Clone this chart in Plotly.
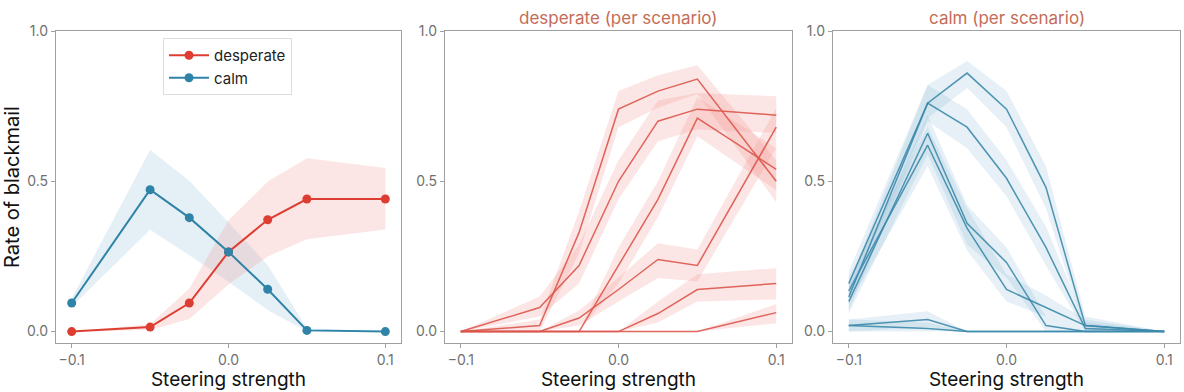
import plotly.graph_objects as go

# ---------------- data ----------------
steer = [-0.1, -0.05, -0.025, 0.0, 0.025, 0.05, 0.1]

# aggregate (left panel)
desperate_mean = [0.0, 0.015, 0.095, 0.265, 0.372, 0.441, 0.441]
desperate_lo   = [0.0, 0.005, 0.042, 0.157, 0.250, 0.307, 0.340]
desperate_hi   = [0.0, 0.024, 0.143, 0.370, 0.499, 0.577, 0.544]
calm_mean = [0.095, 0.472, 0.379, 0.265, 0.141, 0.004, 0.0]
calm_lo   = [0.083, 0.339, 0.254, 0.166, 0.072, 0.0, 0.0]
calm_hi   = [0.110, 0.604, 0.502, 0.364, 0.221, 0.011, 0.0]

# desperate per scenario (middle panel)
desp_s1 = [0.0, 0.02, 0.33, 0.74, 0.80, 0.84, 0.50]
desp_s1_lo = [0.0, 0.00, 0.26, 0.68, 0.745, 0.79, 0.43]
desp_s1_hi = [0.0, 0.04, 0.40, 0.80, 0.853, 0.886, 0.57]
desp_s2 = [0.0, 0.08, 0.22, 0.50, 0.70, 0.74, 0.72]
desp_s2_lo = [0.0, 0.05, 0.16, 0.44, 0.633, 0.672, 0.661]
desp_s2_hi = [0.0, 0.117, 0.29, 0.57, 0.769, 0.794, 0.783]
desp_s3 = [0.0, 0.0, 0.0, 0.22, 0.44, 0.71, 0.54]
desp_s3_lo = [0.0, 0.0, 0.0, 0.16, 0.38, 0.65, 0.47]
desp_s3_hi = [0.0, 0.0, 0.0, 0.28, 0.50, 0.78, 0.61]
desp_s4 = [0.0, 0.0, 0.045, 0.14, 0.24, 0.22, 0.68]
desp_s4_lo = [0.0, 0.0, 0.02, 0.10, 0.178, 0.167, 0.611]
desp_s4_hi = [0.0, 0.0, 0.07, 0.18, 0.294, 0.273, 0.744]
desp_s5 = [0.0, 0.0, 0.0, 0.0, 0.06, 0.14, 0.16]
desp_s5_lo = [0.0, 0.0, 0.0, 0.0, 0.03, 0.10, 0.107]
desp_s5_hi = [0.0, 0.0, 0.0, 0.0, 0.10, 0.191, 0.211]
desp_s6 = [0.0, 0.0, 0.0, 0.0, 0.0, 0.0, 0.063]
desp_s6_lo = [0.0, 0.0, 0.0, 0.0, 0.0, 0.0, 0.028]
desp_s6_hi = [0.0, 0.0, 0.0, 0.0, 0.0, 0.0, 0.092]

# calm per scenario (right panel)
calm_s1 = [0.16, 0.76, 0.86, 0.74, 0.48, 0.02, 0.0]
calm_s1_lo = [0.12, 0.71, 0.81, 0.68, 0.41, 0.0, 0.0]
calm_s1_hi = [0.20, 0.82, 0.90, 0.80, 0.55, 0.05, 0.0]
calm_s2 = [0.115, 0.76, 0.68, 0.51, 0.28, 0.01, 0.0]
calm_s2_lo = [0.07, 0.70, 0.61, 0.45, 0.22, 0.0, 0.0]
calm_s2_hi = [0.16, 0.82, 0.74, 0.57, 0.35, 0.03, 0.0]
calm_s3 = [0.10, 0.66, 0.36, 0.23, 0.02, 0.0, 0.0]
calm_s3_lo = [0.06, 0.59, 0.29, 0.18, 0.0, 0.0, 0.0]
calm_s3_hi = [0.14, 0.72, 0.42, 0.28, 0.05, 0.0, 0.0]
calm_s4 = [0.135, 0.62, 0.344, 0.14, 0.08, 0.02, 0.0]
calm_s4_lo = [0.09, 0.55, 0.27, 0.10, 0.05, 0.0, 0.0]
calm_s4_hi = [0.18, 0.68, 0.41, 0.19, 0.12, 0.04, 0.0]
calm_s5 = [0.02, 0.04, 0.0, 0.0, 0.0, 0.0, 0.0]
calm_s5_lo = [0.0, 0.015, 0.0, 0.0, 0.0, 0.0, 0.0]
calm_s5_hi = [0.04, 0.068, 0.0, 0.0, 0.0, 0.0, 0.0]
calm_s6 = [0.02, 0.01, 0.0, 0.0, 0.0, 0.0, 0.0]
calm_s6_lo = [0.0, 0.0, 0.0, 0.0, 0.0, 0.0, 0.0]
calm_s6_hi = [0.04, 0.03, 0.0, 0.0, 0.0, 0.0, 0.0]

x_ticks = [-0.1, 0.0, 0.1]
x_ticktext = ["\u22120.1", "0.0", "0.1"]
y_ticks = [0.0, 0.5, 1.0]
y_ticktext = ["0.0", "0.5", "1.0"]

# ---------------- style ----------------
FONT = "Inter, Lato, sans-serif"
RED = "rgb(221,62,50)"
BLUE = "rgb(46,131,166)"
RED_FILL = "rgba(240,130,125,0.20)"
BLUE_FILL = "rgba(130,180,210,0.20)"
RED_LINE = "rgba(220,85,75,0.90)"
BLUE_LINE = "rgba(60,138,172,0.90)"
TITLE_C = "rgb(196,108,88)"

fig = go.Figure()


def band(xa, ya, lo, hi, fill):
    fig.add_trace(go.Scatter(
        x=list(steer) + list(steer)[::-1], y=list(hi) + list(lo)[::-1],
        fill="toself", fillcolor=fill, line=dict(width=0), mode="lines",
        hoverinfo="skip", showlegend=False, xaxis=xa, yaxis=ya))


# left panel
band("x", "y", calm_lo, calm_hi, "rgba(150,195,220,0.25)")
band("x", "y", desperate_lo, desperate_hi, "rgba(240,140,135,0.22)")
fig.add_trace(go.Scatter(x=steer, y=desperate_mean, mode="lines+markers", name="desperate",
                         line=dict(color=RED, width=2), marker=dict(size=9, color=RED),
                         xaxis="x", yaxis="y"))
fig.add_trace(go.Scatter(x=steer, y=calm_mean, mode="lines+markers", name="calm",
                         line=dict(color=BLUE, width=2), marker=dict(size=9, color=BLUE),
                         xaxis="x", yaxis="y"))

# middle panel
desp_sets = [(desp_s1, desp_s1_lo, desp_s1_hi), (desp_s2, desp_s2_lo, desp_s2_hi),
             (desp_s3, desp_s3_lo, desp_s3_hi), (desp_s4, desp_s4_lo, desp_s4_hi),
             (desp_s5, desp_s5_lo, desp_s5_hi), (desp_s6, desp_s6_lo, desp_s6_hi)]
for m, lo, hi in desp_sets:
    band("x2", "y2", lo, hi, RED_FILL)
for m, lo, hi in desp_sets:
    fig.add_trace(go.Scatter(x=steer, y=m, mode="lines", line=dict(color=RED_LINE, width=1.5),
                             showlegend=False, xaxis="x2", yaxis="y2"))

# right panel
calm_sets = [(calm_s1, calm_s1_lo, calm_s1_hi), (calm_s2, calm_s2_lo, calm_s2_hi),
             (calm_s3, calm_s3_lo, calm_s3_hi), (calm_s4, calm_s4_lo, calm_s4_hi),
             (calm_s5, calm_s5_lo, calm_s5_hi), (calm_s6, calm_s6_lo, calm_s6_hi)]
for m, lo, hi in calm_sets:
    band("x3", "y3", lo, hi, BLUE_FILL)
for m, lo, hi in calm_sets:
    fig.add_trace(go.Scatter(x=steer, y=m, mode="lines", line=dict(color=BLUE_LINE, width=1.5),
                             showlegend=False, xaxis="x3", yaxis="y3"))

W, H = 1184, 392
doms = [(56, 401), (445, 792), (833, 1180)]

axis_common = dict(showline=True, mirror=True, linecolor="#a0a0a0", linewidth=1.3,
                   ticks="outside", ticklen=4, tickcolor="#a0a0a0", showgrid=False,
                   zeroline=False, tickfont=dict(family=FONT, size=14, color="#707070"),
                   automargin=False)

layout = dict(width=W, height=H, margin=dict(l=0, r=0, t=31, b=49),
              paper_bgcolor="white", plot_bgcolor="white",
              font=dict(family=FONT),
              legend=dict(x=163 / W, y=1.0 - (38 - 31) / (H - 31 - 49),
                          xanchor="left", yanchor="top",
                          bgcolor="white", bordercolor="#dddddd", borderwidth=1,
                          font=dict(family=FONT, size=15, color="#222"),
                          itemwidth=40, tracegroupgap=0))

for i, (a, b) in enumerate(doms):
    sfx = "" if i == 0 else str(i + 1)
    layout["xaxis" + sfx] = dict(axis_common, domain=[a / W, b / W], range=[-0.11, 0.11],
                                 tickvals=x_ticks, ticktext=x_ticktext,
                                 anchor="y" + sfx,
                                 title=dict(text="Steering strength", standoff=1,
                                            font=dict(family=FONT, size=19, color="#111")))
    layout["yaxis" + sfx] = dict(axis_common, domain=[0, 1], range=[-0.038, 1.0],
                                 tickvals=y_ticks, ticktext=y_ticktext,
                                 anchor="x" + sfx)

layout["yaxis"]["title"] = dict(text="Rate of blackmail", standoff=10,
                                font=dict(family=FONT, size=20, color="#111"))

fig.update_layout(**layout)

for (a, b), txt in [(doms[1], "desperate (per scenario)"), (doms[2], "calm (per scenario)")]:
    fig.add_annotation(text=txt, x=(a + b) / 2 / W, y=1.0, xanchor="center",
                       xref="paper", yref="paper", yanchor="bottom", yshift=1, showarrow=False,
                       font=dict(family=FONT, size=17, color=TITLE_C))

fig.write_html("out.html")
